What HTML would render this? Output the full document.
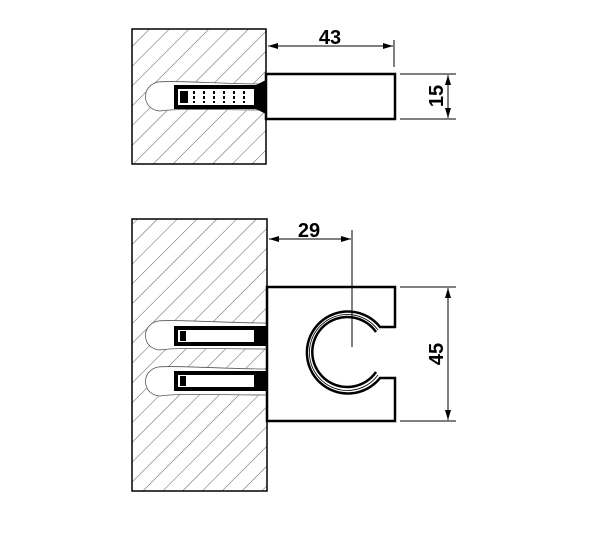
<!DOCTYPE html>
<html><head><style>body{margin:0;background:#fff}svg{display:block}</style></head><body>
<svg width="600" height="533" viewBox="0 0 600 533" xmlns="http://www.w3.org/2000/svg" font-family="Liberation Sans, sans-serif">
<defs>
<pattern id="h" patternUnits="userSpaceOnUse" width="14" height="14" patternTransform="rotate(45)">
<line x1="0" y1="0" x2="0" y2="14" stroke="#333" stroke-width="0.8"/>
</pattern>
<marker id="a" viewBox="0 0 10 6" refX="10" refY="3" markerWidth="11" markerHeight="6" orient="auto-start-reverse" markerUnits="userSpaceOnUse"><path d="M0,0L10,3L0,6z" fill="#000"/></marker>
</defs>
<!-- top view -->
<rect x="132" y="29" width="134" height="135" fill="url(#h)" stroke="#000" stroke-width="1.5"/>
<path d="M266,84 C220,84 175,80 158,82 C140,86 142,110 160,111 C180,108 220,110 266,110 Z" fill="#fff" stroke="#555" stroke-width="0.8"/>
<rect x="176" y="87" width="80" height="20" fill="#fff" stroke="#000" stroke-width="4"/>
<g stroke="#000" stroke-width="2" stroke-dasharray="3,2"><line x1="194" y1="91" x2="194" y2="103"/><line x1="204" y1="91" x2="204" y2="103"/><line x1="214" y1="91" x2="214" y2="103"/><line x1="224" y1="91" x2="224" y2="103"/><line x1="234" y1="91" x2="234" y2="103"/><line x1="244" y1="91" x2="244" y2="103"/></g>
<rect x="180" y="91" width="8" height="12" fill="#000"/>
<path d="M256,85 L266,80 L266,114 L256,109Z" fill="#000"/>
<rect x="266" y="74" width="129" height="45" fill="#fff" stroke="#000" stroke-width="2.5"/>
<line x1="268" y1="46" x2="393" y2="46" stroke="#000" marker-start="url(#a)" marker-end="url(#a)"/>
<line x1="394" y1="40" x2="394" y2="67" stroke="#000"/>
<text x="330" y="44" font-size="20" font-weight="bold" text-anchor="middle">43</text>
<line x1="400" y1="74" x2="456" y2="74" stroke="#000"/>
<line x1="400" y1="119" x2="456" y2="119" stroke="#000"/>
<line x1="448" y1="75" x2="448" y2="118" stroke="#000" marker-start="url(#a)" marker-end="url(#a)"/>
<text transform="translate(443,96) rotate(-90)" font-size="20" font-weight="bold" text-anchor="middle">15</text>
<!-- bottom view -->
<rect x="132" y="219" width="135" height="272" fill="url(#h)" stroke="#000" stroke-width="1.5"/>
<path d="M267,323 C220,323 175,319 158,321 C140,325 142,349 160,350 C180,347 220,349 267,349 Z" fill="#fff" stroke="#555" stroke-width="0.8"/>
<path d="M267,369 C220,369 175,365 158,367 C140,371 142,395 160,396 C180,393 220,395 267,395 Z" fill="#fff" stroke="#555" stroke-width="0.8"/>
<g fill="#fff" stroke="#000" stroke-width="4">
<rect x="176" y="328" width="88" height="16"/><rect x="176" y="373" width="88" height="16"/></g>
<g stroke="#000" stroke-width="2" stroke-dasharray="3,3"><line x1="178" y1="327" x2="264" y2="327"/><line x1="178" y1="345" x2="264" y2="345"/><line x1="178" y1="372" x2="264" y2="372"/><line x1="178" y1="390" x2="264" y2="390"/></g>
<g fill="#000"><rect x="180" y="331" width="6" height="10"/><rect x="180" y="376" width="6" height="10"/><rect x="254" y="328" width="13" height="16"/><rect x="254" y="373" width="13" height="16"/></g>
<path d="M267,287 H395 V327 H380 A41,41 0 1 0 380,378 H395 V421 H267 Z" fill="#fff" stroke="#000" stroke-width="2.5"/>
<path d="M376,332 A35,35 0 1 0 376,372" fill="none" stroke="#000" stroke-width="2.5"/>
<path d="M378,330 A38,38 0 1 0 378,375" fill="none" stroke="#000" stroke-width="0.8"/>
<line x1="352" y1="230" x2="352" y2="347" stroke="#000"/>
<line x1="269" y1="239" x2="351" y2="239" stroke="#000" marker-start="url(#a)" marker-end="url(#a)"/>
<text x="309" y="237" font-size="20" font-weight="bold" text-anchor="middle">29</text>
<line x1="400" y1="287" x2="456" y2="287" stroke="#000"/>
<line x1="400" y1="421" x2="456" y2="421" stroke="#000"/>
<line x1="448" y1="288" x2="448" y2="420" stroke="#000" marker-start="url(#a)" marker-end="url(#a)"/>
<text transform="translate(443,354) rotate(-90)" font-size="20" font-weight="bold" text-anchor="middle">45</text>
</svg>
</body></html>
